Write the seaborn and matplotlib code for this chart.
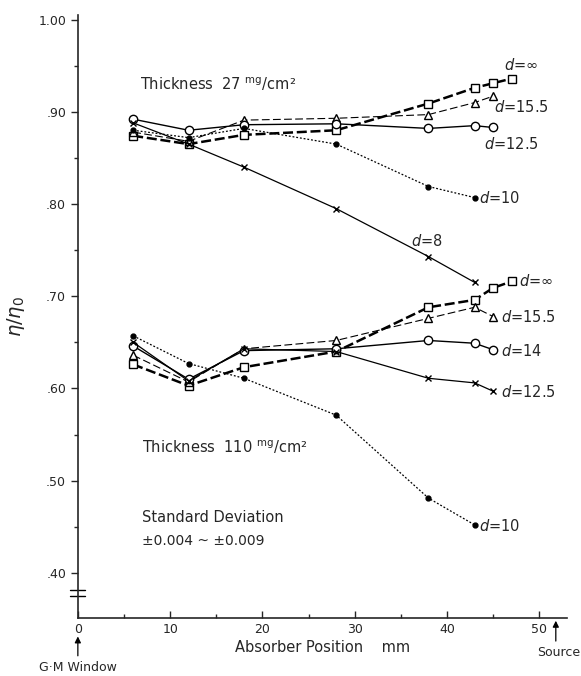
import numpy as np
import pandas as pd
import matplotlib
matplotlib.use("Agg")
import matplotlib.pyplot as plt
import seaborn as sns

# absorber positions (mm)
pos_long = [6, 12, 18, 28, 38, 43, 45, 47]
pos_45 = [6, 12, 18, 28, 38, 43, 45]
pos_43 = [6, 12, 18, 28, 38, 43]

# thickness 27 mg/cm2
t27_inf = [0.874, 0.865, 0.875, 0.880, 0.909, 0.926, 0.931, 0.936]
t27_155 = [0.878, 0.868, 0.891, 0.893, 0.897, 0.910, 0.917]
t27_125 = [0.892, 0.880, 0.886, 0.887, 0.882, 0.885, 0.883]
t27_10 = [0.880, 0.872, 0.882, 0.865, 0.819, 0.807]
t27_8 = [0.888, 0.865, 0.840, 0.795, 0.743, 0.715]

# thickness 110 mg/cm2
t110_inf = [0.626, 0.603, 0.623, 0.640, 0.688, 0.696, 0.709, 0.716]
t110_155 = [0.636, 0.607, 0.643, 0.652, 0.676, 0.688, 0.678]
t110_14 = [0.646, 0.610, 0.641, 0.643, 0.652, 0.649, 0.642]
t110_125 = [0.650, 0.608, 0.643, 0.640, 0.611, 0.606, 0.597]
t110_10 = [0.657, 0.627, 0.611, 0.571, 0.481, 0.452]

sns.set_style("ticks")
plt.rcParams['font.family'] = ['DejaVu Sans']
plt.rcParams['mathtext.fontset'] = 'dejavusans'

fig = plt.figure(figsize=(5.81, 6.76), dpi=100)
ax = fig.add_axes([0.134, 0.0858, 0.8417, 0.892])

styles = {
    'inf': dict(marker='s', linestyle=(0, (4, 1.5)), linewidth=1.8, markersize=6),
    '155': dict(marker='^', linestyle=(0, (7, 3)), linewidth=0.8, markersize=6),
    'solid_o': dict(marker='o', linestyle='-', linewidth=1.0, markersize=6),
    'dot': dict(marker='o', linestyle=(0, (1.5, 1.5)), linewidth=0.9, markersize=3.5),
    'x': dict(marker='x', linestyle='-', linewidth=0.9, markersize=5),
}

series = [
    (pos_long, t27_inf, 'inf'),
    (pos_45, t27_155, '155'),
    (pos_45, t27_125, 'solid_o'),
    (pos_43, t27_10, 'dot'),
    (pos_43, t27_8, 'x'),
    (pos_long, t110_inf, 'inf'),
    (pos_45, t110_155, '155'),
    (pos_45, t110_14, 'solid_o'),
    (pos_45, t110_125, 'x'),
    (pos_43, t110_10, 'dot'),
]

for xs, ys, st in series:
    s = styles[st]
    filled = st == 'dot'
    sns.lineplot(x=xs, y=ys, ax=ax, color='black', marker=s['marker'],
                 linestyle=s['linestyle'], linewidth=s['linewidth'],
                 markersize=s['markersize'],
                 markerfacecolor='black' if filled else 'white',
                 markeredgecolor='black', markeredgewidth=1.0,
                 sort=False, estimator=None)

ax.set_xlim(0, 53)
ax.set_ylim(0.351, 1.005)
ax.set_xticks([0, 10, 20, 30, 40, 50])
ax.set_xticks([5, 15, 25, 35, 45], minor=True)
ax.set_yticks([0.40, 0.50, 0.60, 0.70, 0.80, 0.90, 1.00])
ax.set_yticklabels(['.40', '.50', '.60', '.70', '.80', '.90', '1.00'])
ax.set_yticks(np.arange(0.45, 1.0, 0.1), minor=True)
ax.tick_params(axis='both', which='major', direction='in', length=5, width=1, labelsize=9)
ax.tick_params(axis='both', which='minor', direction='in', length=3, width=1)
ax.tick_params(axis='y', direction='out', which='both')
sns.despine(ax=ax)
for sp in ['left', 'bottom']:
    ax.spines[sp].set_linewidth(1.2)

# axis break on y
for dy in (0.0, 0.006):
    ax.plot([-0.8, 0.8], [0.375 + dy, 0.375 + dy], color='black', lw=1.0,
            clip_on=False)

ax.set_xlabel('Absorber Position    mm', fontsize=10.5, labelpad=3)
ax.set_ylabel(r'$\eta/\eta_0$', fontsize=14, labelpad=8)

ax.text(6.7, 0.930, 'Thickness  27 $^{\\mathrm{mg}}$/cm²', fontsize=10.5, va='center')
ax.text(6.9, 0.536, 'Thickness  110 $^{\\mathrm{mg}}$/cm²', fontsize=10.5, va='center')
ax.text(6.9, 0.460, 'Standard Deviation', fontsize=10.5, va='center')
ax.text(6.9, 0.434, '±0.004 ~ ±0.009', fontsize=10, va='center')

lab_kw = dict(fontsize=10.5, va='center')
ax.text(46.2, 0.951, r'$d$=∞', **lab_kw)
ax.text(45.1, 0.905, r'$d$=15.5', **lab_kw)
ax.text(44.0, 0.865, r'$d$=12.5', **lab_kw)
ax.text(43.5, 0.806, r'$d$=10', **lab_kw)
ax.text(36.1, 0.760, r'$d$=8', **lab_kw)
ax.text(47.8, 0.716, r'$d$=∞', **lab_kw)
ax.text(45.9, 0.677, r'$d$=15.5', **lab_kw)
ax.text(45.9, 0.641, r'$d$=14', **lab_kw)
ax.text(45.9, 0.596, r'$d$=12.5', **lab_kw)
ax.text(43.5, 0.451, r'$d$=10', **lab_kw)

# arrows at G-M window and source
arrow_kw = dict(arrowstyle='-|>', color='black', lw=0.9, mutation_scale=9,
                shrinkA=0, shrinkB=0)
ax.annotate('', xy=(0, 0.331), xytext=(0, 0.310), annotation_clip=False,
            arrowprops=arrow_kw)
ax.annotate('', xy=(51.8, 0.348), xytext=(51.8, 0.326), annotation_clip=False,
            arrowprops=arrow_kw)
fig.text(0.134, 0.012, 'G·M Window', fontsize=9, ha='center', va='center')
fig.text(0.998, 0.035, 'Source', fontsize=9, ha='right', va='center')

fig.savefig('out.png', dpi=100)
